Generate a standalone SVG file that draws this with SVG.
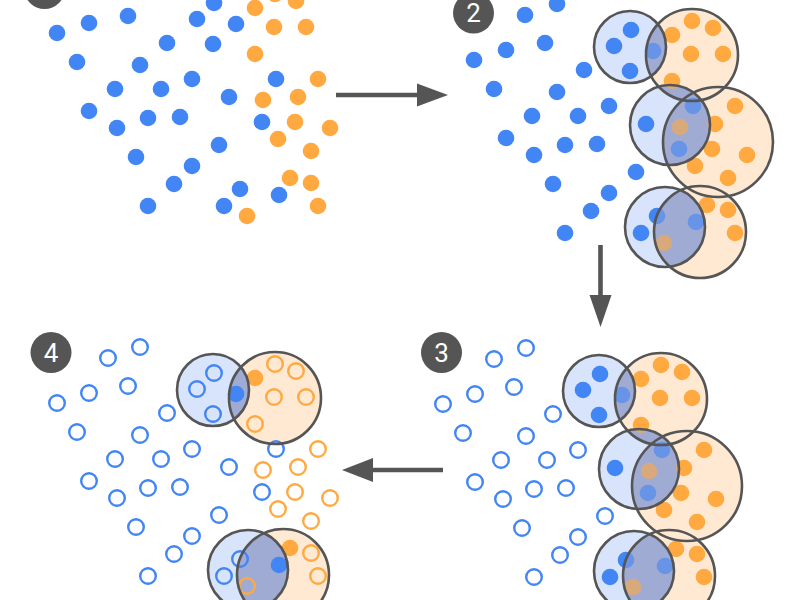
<svg xmlns="http://www.w3.org/2000/svg" xmlns:xlink="http://www.w3.org/1999/xlink" width="800" height="600" viewBox="0 0 800 600">
<style>
.b{fill:#4285f4}
.o{fill:#ffa940}
.bo{fill:none;stroke:#4285f4;stroke-width:2.4}
.oo{fill:none;stroke:#ffa940;stroke-width:2.4}
.cb{fill:#d8e4fb}
.co{fill:#ffe9d2}
.ov{fill:#a0abd4}
.ring{fill:none;stroke:#555;stroke-width:2.6}
.badge{fill:#555}
.num{fill:#fff;font-family:Roboto,"Liberation Sans",sans-serif;font-size:26px;text-anchor:middle}
.shaft{stroke:#555;stroke-width:4.6;fill:none}
.head{fill:#555}
</style>
<defs>
<clipPath id="cAo"><circle cx="275" cy="28" r="46"/></clipPath>
<clipPath id="cBo"><circle cx="301" cy="115" r="55"/></clipPath>
<clipPath id="cCo"><circle cx="283" cy="205" r="46"/></clipPath>
<g id="dotsFilled">
<g class="b">
<circle cx="108" cy="-12" r="8.3"/><circle cx="140" cy="-23" r="8.3"/><circle cx="214" cy="3" r="8.3"/>
<circle cx="89" cy="23" r="8.3"/><circle cx="128" cy="16" r="8.3"/><circle cx="57" cy="33" r="8.3"/>
<circle cx="197" cy="19" r="8.3"/><circle cx="236" cy="24" r="8.3"/><circle cx="167" cy="43" r="8.3"/>
<circle cx="213" cy="44" r="8.3"/><circle cx="77" cy="62" r="8.3"/><circle cx="140" cy="65" r="8.3"/>
<circle cx="192" cy="79" r="8.3"/><circle cx="115" cy="89" r="8.3"/><circle cx="161" cy="89" r="8.3"/>
<circle cx="276" cy="79" r="8.3"/><circle cx="229" cy="97" r="8.3"/><circle cx="89" cy="111" r="8.3"/>
<circle cx="148" cy="118" r="8.3"/><circle cx="180" cy="117" r="8.3"/><circle cx="262" cy="122" r="8.3"/>
<circle cx="117" cy="128" r="8.3"/><circle cx="219" cy="145" r="8.3"/><circle cx="136" cy="157" r="8.3"/>
<circle cx="192" cy="166" r="8.3"/><circle cx="174" cy="184" r="8.3"/><circle cx="240" cy="189" r="8.3"/>
<circle cx="279" cy="195" r="8.3"/><circle cx="148" cy="206" r="8.3"/><circle cx="224" cy="206" r="8.3"/>
</g>
<g class="o">
<circle cx="255" cy="8" r="8.3"/><circle cx="275" cy="-6" r="8.3"/><circle cx="296" cy="1" r="8.3"/>
<circle cx="274" cy="27" r="8.3"/><circle cx="306" cy="27" r="8.3"/><circle cx="255" cy="54" r="8.3"/>
<circle cx="318" cy="79" r="8.3"/><circle cx="263" cy="100" r="8.3"/><circle cx="298" cy="97" r="8.3"/>
<circle cx="295" cy="122" r="8.3"/><circle cx="330" cy="128" r="8.3"/><circle cx="278" cy="139" r="8.3"/>
<circle cx="311" cy="151" r="8.3"/><circle cx="290" cy="178" r="8.3"/><circle cx="311" cy="183" r="8.3"/>
<circle cx="318" cy="206" r="8.3"/><circle cx="247" cy="216" r="8.3"/>
</g>
</g>
<g id="fills3">
<circle class="co" cx="275" cy="28" r="46"/>
<circle class="co" cx="301" cy="115" r="55"/>
<circle class="co" cx="283" cy="205" r="46"/>
<circle class="cb" cx="213" cy="20" r="36"/>
<circle class="cb" cx="253" cy="98" r="40"/>
<circle class="cb" cx="248" cy="200" r="40"/>
</g>
<g id="ov3" class="ov">
<circle cx="213" cy="20" r="36" clip-path="url(#cAo)"/>
<circle cx="253" cy="98" r="40" clip-path="url(#cBo)"/>
<circle cx="253" cy="98" r="40" clip-path="url(#cAo)"/>
<circle cx="248" cy="200" r="40" clip-path="url(#cCo)"/>
</g>
<g id="rings3" class="ring">
<circle cx="275" cy="28" r="46"/>
<circle cx="301" cy="115" r="55"/>
<circle cx="283" cy="205" r="46"/>
<circle cx="213" cy="20" r="36"/>
<circle cx="253" cy="98" r="40"/>
<circle cx="248" cy="200" r="40"/>
</g>
</defs>

<g id="panel1">
<use xlink:href="#dotsFilled"/>
<circle class="badge" cx="44.5" cy="-11.5" r="20.5"/>
</g>

<g id="panel2">
<g transform="translate(417,27)">
<use xlink:href="#fills3"/>
<use xlink:href="#ov3"/>
<use xlink:href="#dotsFilled"/>
<use xlink:href="#ov3" opacity="0.4"/>
<use xlink:href="#rings3"/>
</g>
<circle class="badge" cx="473.5" cy="13" r="20.5"/>
<text class="num" x="473.5" y="22.3">2</text>
</g>

<g id="panel3">
<g transform="translate(386,371)">
<use xlink:href="#fills3"/>
<use xlink:href="#ov3"/>
<g class="bo">
<circle cx="108" cy="-12" r="7.8"/><circle cx="140" cy="-23" r="7.8"/>
<circle cx="89" cy="23" r="7.8"/><circle cx="128" cy="16" r="7.8"/><circle cx="57" cy="33" r="7.8"/>
<circle cx="167" cy="43" r="7.8"/><circle cx="77" cy="62" r="7.8"/><circle cx="140" cy="65" r="7.8"/>
<circle cx="192" cy="79" r="7.8"/><circle cx="115" cy="89" r="7.8"/><circle cx="161" cy="89" r="7.8"/>
<circle cx="89" cy="111" r="7.8"/><circle cx="148" cy="118" r="7.8"/><circle cx="180" cy="117" r="7.8"/>
<circle cx="117" cy="128" r="7.8"/><circle cx="219" cy="145" r="7.8"/><circle cx="136" cy="157" r="7.8"/>
<circle cx="192" cy="166" r="7.8"/><circle cx="174" cy="184" r="7.8"/><circle cx="148" cy="206" r="7.8"/>
</g>
<g class="b">
<circle cx="214" cy="3" r="8.3"/><circle cx="197" cy="19" r="8.3"/><circle cx="236" cy="24" r="8.3"/>
<circle cx="213" cy="44" r="8.3"/><circle cx="276" cy="79" r="8.3"/><circle cx="229" cy="97" r="8.3"/>
<circle cx="262" cy="122" r="8.3"/><circle cx="240" cy="189" r="8.3"/><circle cx="279" cy="195" r="8.3"/>
<circle cx="224" cy="206" r="8.3"/>
</g>
<g class="o">
<circle cx="255" cy="8" r="8.3"/><circle cx="275" cy="-6" r="8.3"/><circle cx="296" cy="1" r="8.3"/>
<circle cx="274" cy="27" r="8.3"/><circle cx="306" cy="27" r="8.3"/><circle cx="255" cy="54" r="8.3"/>
<circle cx="318" cy="79" r="8.3"/><circle cx="263" cy="100" r="8.3"/><circle cx="298" cy="97" r="8.3"/>
<circle cx="295" cy="122" r="8.3"/><circle cx="330" cy="128" r="8.3"/><circle cx="278" cy="139" r="8.3"/>
<circle cx="311" cy="151" r="8.3"/><circle cx="290" cy="178" r="8.3"/><circle cx="311" cy="183" r="8.3"/>
<circle cx="318" cy="206" r="8.3"/><circle cx="247" cy="216" r="8.3"/>
</g>
<use xlink:href="#ov3" opacity="0.4"/>
<use xlink:href="#rings3"/>
</g>
<circle class="badge" cx="441.5" cy="352.5" r="20.5"/>
<text class="num" x="441.5" y="361.8">3</text>
</g>

<g id="panel4">
<g transform="translate(0,370)">
<circle class="co" cx="275" cy="28" r="46"/>
<circle class="co" cx="283" cy="205" r="46"/>
<circle class="cb" cx="213" cy="20" r="36"/>
<circle class="cb" cx="248" cy="200" r="40"/>
<g class="ov">
<circle cx="213" cy="20" r="36" clip-path="url(#cAo)"/>
<circle cx="248" cy="200" r="40" clip-path="url(#cCo)"/>
</g>
<g class="bo">
<circle cx="108" cy="-12" r="7.8"/><circle cx="140" cy="-23" r="7.8"/><circle cx="214" cy="3" r="7.8"/>
<circle cx="89" cy="23" r="7.8"/><circle cx="128" cy="16" r="7.8"/><circle cx="57" cy="33" r="7.8"/>
<circle cx="197" cy="19" r="7.8"/><circle cx="167" cy="43" r="7.8"/>
<circle cx="213" cy="44" r="7.8"/><circle cx="77" cy="62" r="7.8"/><circle cx="140" cy="65" r="7.8"/>
<circle cx="192" cy="79" r="7.8"/><circle cx="115" cy="89" r="7.8"/><circle cx="161" cy="89" r="7.8"/>
<circle cx="276" cy="79" r="7.8"/><circle cx="229" cy="97" r="7.8"/><circle cx="89" cy="111" r="7.8"/>
<circle cx="148" cy="118" r="7.8"/><circle cx="180" cy="117" r="7.8"/><circle cx="262" cy="122" r="7.8"/>
<circle cx="117" cy="128" r="7.8"/><circle cx="219" cy="145" r="7.8"/><circle cx="136" cy="157" r="7.8"/>
<circle cx="192" cy="166" r="7.8"/><circle cx="174" cy="184" r="7.8"/><circle cx="240" cy="189" r="7.8"/>
<circle cx="148" cy="206" r="7.8"/><circle cx="224" cy="206" r="7.8"/>
</g>
<g class="oo">
<circle cx="275" cy="-6" r="7.8"/><circle cx="296" cy="1" r="7.8"/>
<circle cx="274" cy="27" r="7.8"/><circle cx="306" cy="27" r="7.8"/><circle cx="255" cy="54" r="7.8"/>
<circle cx="318" cy="79" r="7.8"/><circle cx="263" cy="100" r="7.8"/><circle cx="298" cy="97" r="7.8"/>
<circle cx="295" cy="122" r="7.8"/><circle cx="330" cy="128" r="7.8"/><circle cx="278" cy="139" r="7.8"/>
<circle cx="311" cy="151" r="7.8"/><circle cx="311" cy="183" r="7.8"/>
<circle cx="318" cy="206" r="7.8"/><circle cx="247" cy="216" r="7.8"/>
</g>
<circle class="b" cx="236" cy="24" r="8.3"/>
<circle class="b" cx="279" cy="195" r="8.3"/>
<circle class="o" cx="255" cy="8" r="8.3"/>
<circle class="o" cx="290" cy="178" r="8.3"/>
<g class="ring">
<circle cx="275" cy="28" r="46"/>
<circle cx="283" cy="205" r="46"/>
<circle cx="213" cy="20" r="36"/>
<circle cx="248" cy="200" r="40"/>
</g>
</g>
<circle class="badge" cx="51" cy="352.5" r="20.5"/>
<text class="num" x="51" y="361.8">4</text>
</g>

<g id="connectors">
<line class="shaft" x1="336" y1="95" x2="420" y2="95"/>
<polygon class="head" points="417,83.5 448,95 417,106.5"/>
<line class="shaft" x1="600.5" y1="245" x2="600.5" y2="298"/>
<polygon class="head" points="589.5,295 600.5,327 611.5,295"/>
<line class="shaft" x1="443" y1="470" x2="370" y2="470"/>
<polygon class="head" points="373,458 342,470 373,482"/>
</g>
</svg>
